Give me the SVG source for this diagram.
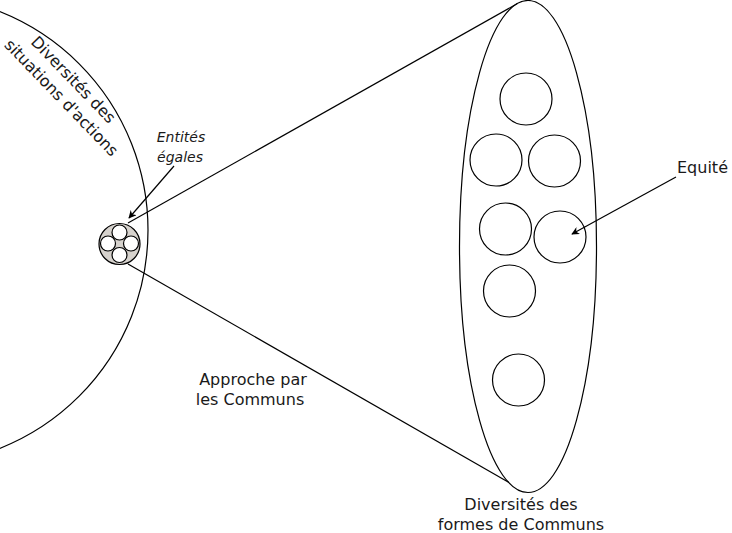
<svg xmlns="http://www.w3.org/2000/svg" width="732" height="533" viewBox="0 0 732 533">
<style>
.ln{fill:none;stroke:#000;stroke-width:1.2}
.c{fill:#fff;stroke:#000;stroke-width:1.2}
text{font-family:"DejaVu Sans","Liberation Sans",sans-serif;font-size:16px;fill:#1a1a1a}
.it{font-style:italic;font-size:14px}
</style>
<defs>
<marker id="ah" viewBox="0 0 10 10" refX="9" refY="5" markerWidth="8" markerHeight="8" orient="auto" markerUnits="userSpaceOnUse">
<path d="M0,0 L10,5 L0,10 L3,5 z" fill="#000"/>
</marker>
</defs>
<rect width="732" height="533" fill="#fff"/>
<g id="situations">
<circle class="ln" cx="-87" cy="230" r="235"/>
<g transform="translate(73,80) rotate(46)"><text x="0" y="5" text-anchor="middle">Diversités des</text></g>
<g transform="translate(61,98) rotate(46)"><text x="0" y="5" text-anchor="middle">situations d'actions</text></g>
</g>
<g id="connectors">
<line class="ln" x1="128" y1="223" x2="517.5" y2="3.5"/>
<line class="ln" x1="128" y1="264" x2="509" y2="482.5"/>
<line class="ln" x1="174" y1="166" x2="129" y2="218" marker-end="url(#ah)"/>
<line class="ln" x1="676" y1="177" x2="572" y2="234" marker-end="url(#ah)"/>
</g>
<g id="entites">
<circle cx="119.5" cy="244" r="20.5" fill="#d6d2cd" stroke="#000" stroke-width="1.2"/>
<circle class="c" cx="119.5" cy="232.5" r="7.5"/>
<circle class="c" cx="108" cy="243.5" r="7.5"/>
<circle class="c" cx="131" cy="243.5" r="7.5"/>
<circle class="c" cx="119.5" cy="255" r="7.5"/>
<text class="it" x="181" y="142" text-anchor="middle">Entités</text>
<text class="it" x="180" y="162" text-anchor="middle">égales</text>
</g>
<g id="communs">
<ellipse class="ln" cx="528" cy="246.5" rx="68.5" ry="246"/>
<circle class="ln" cx="526" cy="99" r="26"/>
<circle class="ln" cx="496" cy="160" r="26"/>
<circle class="ln" cx="554.5" cy="161" r="26"/>
<circle class="ln" cx="505.5" cy="229" r="26"/>
<circle class="ln" cx="560" cy="237" r="26"/>
<circle class="ln" cx="509.5" cy="291" r="26"/>
<circle class="ln" cx="518.5" cy="380" r="26"/>
<text x="521" y="510" text-anchor="middle">Diversités des</text>
<text x="521" y="530" text-anchor="middle">formes de Communs</text>
</g>
<g id="equite"><text x="677" y="173">Equité</text></g>
<g id="approche">
<text x="253" y="385" text-anchor="middle">Approche par</text>
<text x="250" y="405" text-anchor="middle">les Communs</text>
</g>
</svg>
